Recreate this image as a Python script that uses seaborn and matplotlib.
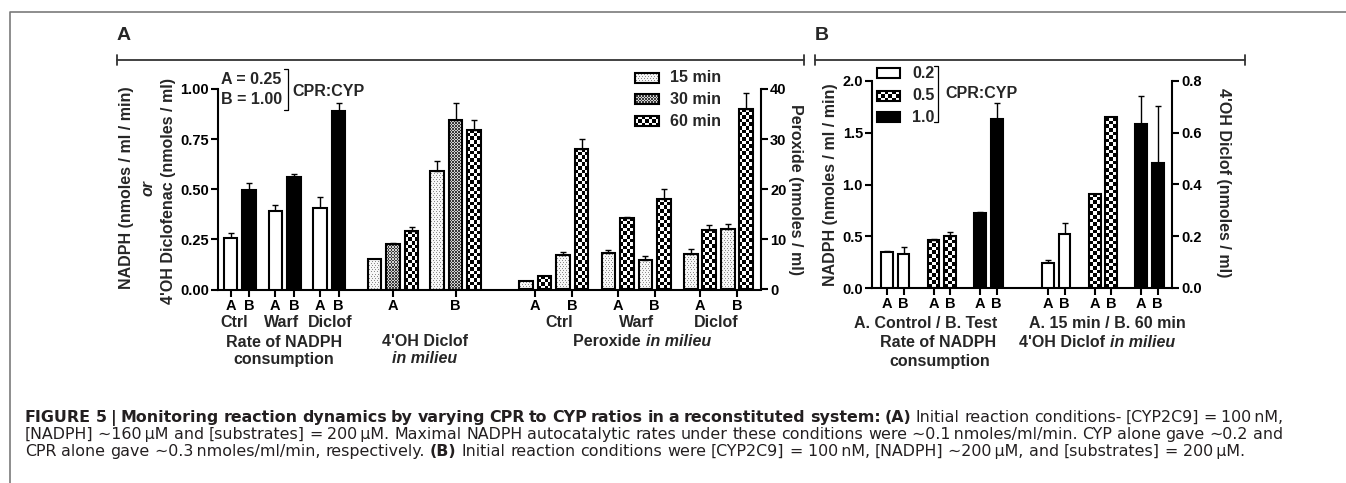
import matplotlib
matplotlib.use("Agg")
import numpy as np
import pandas as pd
import matplotlib.pyplot as plt
import seaborn as sns
from matplotlib.colors import ListedColormap

# ---------------- data ----------------
# Panel A - rate of NADPH consumption (A = 0.25, B = 1.00 CPR:CYP)
a_conditions = ["Ctrl", "Warf", "Diclof"]
a_groups = ["A", "B"]
a_nadph = [0.256, 0.497, 0.392, 0.561, 0.404, 0.889]      # Ctrl A, Ctrl B, Warf A, Warf B, Diclof A, Diclof B
a_nadph_err = [0.028, 0.033, 0.028, 0.017, 0.057, 0.040]
# Panel A - 4'OH diclofenac in milieu (15, 30, 60 min)
a_times = ["15 min", "30 min", "60 min"]
a_oh_A = [0.151, 0.226, 0.294]
a_oh_A_err = [0.0, 0.005, 0.020]
a_oh_B = [0.589, 0.843, 0.794]
a_oh_B_err = [0.050, 0.088, 0.050]
# Panel A - peroxide in milieu, order Ctrl A, Ctrl B, Warf A, Warf B, Diclof A, Diclof B
a_perox_15 = [1.7, 6.9, 7.3, 5.9, 7.0, 12.1]
a_perox_15_err = [0.0, 0.5, 0.5, 0.8, 1.0, 1.0]
a_perox_60 = [2.7, 28.1, 14.2, 18.1, 11.8, 36.1]
a_perox_60_err = [0.0, 2.0, 0.3, 2.0, 1.0, 3.1]
# Panel B - CPR:CYP 0.2 / 0.5 / 1.0
b_ratios = ["0.2", "0.5", "1.0"]
b_nadph_ctrl = [0.347, 0.466, 0.723]
b_nadph_ctrl_err = [0.010, 0.005, 0.010]
b_nadph_test = [0.328, 0.498, 1.633]
b_nadph_test_err = [0.064, 0.040, 0.150]
b_oh_15 = [0.097, 0.364, 0.633]
b_oh_15_err = [0.013, 0.0, 0.110]
b_oh_60 = [0.210, 0.660, 0.483]
b_oh_60_err = [0.041, 0.0, 0.219]

# ---------------- style ----------------
sns.set_style("ticks")
plt.rcParams["font.family"] = ["Liberation Sans", "DejaVu Sans"]
plt.rcParams["font.weight"] = "bold"
plt.rcParams["axes.edgecolor"] = "black"
plt.rcParams["axes.linewidth"] = 1.5
for a in ("xtick", "ytick"):
    plt.rcParams[a + ".color"] = "black"
    plt.rcParams[a + ".major.width"] = 1.5
    plt.rcParams[a + ".major.size"] = 5
    plt.rcParams[a + ".major.pad"] = 1.5

W, H = 1346, 483
fig = plt.figure(figsize=(W / 100, H / 100), dpi=100)
fig.patch.set_facecolor("white")
renderer = fig.canvas.get_renderer()


def frac(x0, y_top, x1, y_bot):
    return [x0 / W, 1 - y_bot / H, (x1 - x0) / W, (y_bot - y_top) / H]


axA = fig.add_axes(frac(218, 89, 761, 289.5))
axA2 = axA.twinx()
axB = fig.add_axes(frac(872, 81, 1172, 288))
axB2 = axB.twinx()
ov = fig.add_axes([0, 0, 1, 1], zorder=10)   # pixel overlay for annotations
ov.set_xlim(0, W)
ov.set_ylim(H, 0)
ov.axis("off")

A_SLOT, B_SLOT = 18.5, 16.5   # pixels per bar slot


def draw_bars(ax, pos, vals, kinds, width):
    n0 = len(ax.patches)
    df = pd.DataFrame({"pos": pos, "val": vals})
    sns.barplot(data=df, x="pos", y="val", orient="x", native_scale=True,
                width=width, color="white", saturation=1, errorbar=None,
                edgecolor="black", linewidth=1.5, ax=ax)
    new = sorted(ax.patches[n0:], key=lambda p: p.get_x())
    out = [None] * len(pos)
    for p, k in zip(new, np.argsort(pos)):
        out[k] = p
    for p, kind in zip(out, kinds):
        p.set_zorder(3)
        p.set_edgecolor("black")
        p.set_linewidth(1.5)
        p.set_facecolor({"white": "white", "black": "black"}.get(kind, "none"))
    ax.set_xlabel("")
    ax.set_ylabel("")
    return out


def pattern(ax, x0, x1, y0, y1, kind, zorder=2.2):
    (px0, py0), (px1, py1) = ax.transData.transform([(x0, y0), (x1, y1)])
    wpx, hpx = abs(px1 - px0), abs(py1 - py0)
    if kind == "check":
        nx, ny = max(1, round(wpx / 3.6)), max(1, round(hpx / 3.6))
        arr = np.add.outer(np.arange(ny), np.arange(nx)) % 2
        cmap = ListedColormap(["black", "white"])
    elif kind == "fine":
        nx, ny = max(1, round(wpx / 1.5)), max(1, round(hpx / 1.5))
        arr = np.add.outer(np.arange(ny), np.arange(nx)) % 2
        cmap = ListedColormap(["#3a3a3a", "#d4d4d4"])
    else:
        nx, ny = max(1, round(wpx)), max(1, round(hpx))
        arr = np.ones((ny, nx))
        arr[::4, ::3] = 0
        arr[2::4, 1::3] = 0
        cmap = ListedColormap(["#8c8c8c", "#f6f6f6"])
    ax.imshow(arr, cmap=cmap, vmin=0, vmax=1, extent=(x0, x1, y0, y1),
              origin="lower", aspect="auto", interpolation="nearest",
              zorder=zorder, clip_on=False)


def fill_bars(ax, patches, kinds):
    for p, kind in zip(patches, kinds):
        if kind in ("check", "fine", "dots"):
            x0 = p.get_x()
            pattern(ax, x0, x0 + p.get_width(), 0, p.get_height(), kind)


def draw_err(ax, pos, vals, errs):
    pos, vals, errs = map(np.asarray, (pos, vals, errs))
    m = errs > 0
    ax.errorbar(pos[m], vals[m], yerr=[np.zeros(m.sum()), errs[m]], fmt="none",
                ecolor="black", elinewidth=1.0, capsize=2.5, capthick=1.0, zorder=2.5)


# ---------------- panel A ----------------
pos_nadph = [0.68 + 2.42 * i + j for i in range(3) for j in range(2)]
kind_nadph = ["white", "black"] * 3
pos_oh = [8.46 + 3.38 * g + t for g in range(2) for t in range(3)]
val_oh = a_oh_A + a_oh_B
err_oh = a_oh_A_err + a_oh_B_err
kind_oh = ["dots", "fine", "check"] * 2
pos_per, val_per, err_per, kind_per = [], [], [], []
for i in range(3):
    for g in range(2):
        k = 2 * i + g
        for t in range(2):
            pos_per.append(16.65 + 4.45 * i + 2 * g + t)
            val_per.append(a_perox_15[k] if t == 0 else a_perox_60[k])
            err_per.append(a_perox_15_err[k] if t == 0 else a_perox_60_err[k])
            kind_per.append("dots" if t == 0 else "check")

barsA = draw_bars(axA, pos_nadph + pos_oh, a_nadph + val_oh, kind_nadph + kind_oh, 0.74)
barsA2 = draw_bars(axA2, pos_per, val_per, kind_per, 0.74)

# ---------------- panel B ----------------
pos_b1 = [0.91 + 2.82 * i + j for i in range(3) for j in range(2)]
pos_b2 = [10.67 + 2.82 * i + j for i in range(3) for j in range(2)]
val_b1, err_b1, val_b2, err_b2 = [], [], [], []
for i in range(3):
    val_b1 += [b_nadph_ctrl[i], b_nadph_test[i]]
    err_b1 += [b_nadph_ctrl_err[i], b_nadph_test_err[i]]
    val_b2 += [b_oh_15[i], b_oh_60[i]]
    err_b2 += [b_oh_15_err[i], b_oh_60_err[i]]
kind_b = ["white", "white", "check", "check", "black", "black"]
barsB = draw_bars(axB, pos_b1, val_b1, kind_b, 0.72)
barsB2 = draw_bars(axB2, pos_b2, val_b2, kind_b, 0.72)


def set_limits():
    axA.set_xlim(0, (761 - 218) / A_SLOT)
    axA.set_ylim(0, 1.0)
    axA2.set_ylim(0, 40)
    axB.set_xlim(0, (1172 - 872) / B_SLOT)
    axB.set_ylim(0, 2.0)
    axB2.set_ylim(0, 0.8)


set_limits()
fill_bars(axA, barsA, kind_nadph + kind_oh)
fill_bars(axA2, barsA2, kind_per)
fill_bars(axB, barsB, kind_b)
fill_bars(axB2, barsB2, kind_b)
draw_err(axA, pos_nadph + pos_oh, a_nadph + val_oh, a_nadph_err + err_oh)
draw_err(axA2, pos_per, val_per, err_per)
draw_err(axB, pos_b1, val_b1, err_b1)
draw_err(axB2, pos_b2, val_b2, err_b2)
set_limits()

# ticks
tick_a = pos_nadph + [pos_oh[1], pos_oh[4]] + [16.65 + 0.5 + 4.45 * i + 2 * g for i in range(3) for g in range(2)]
axA.set_xticks(tick_a, a_groups * 3 + a_groups + a_groups * 3)
axB.set_xticks(pos_b1 + pos_b2, a_groups * 6)
axA.set_yticks([0, 0.25, 0.5, 0.75, 1.0], ["0.00", "0.25", "0.50", "0.75", "1.00"])
axA2.set_yticks([0, 10, 20, 30, 40], ["0", "10", "20", "30", "40"])
axB.set_yticks([0, 0.5, 1.0, 1.5, 2.0], ["0.0", "0.5", "1.0", "1.5", "2.0"])
axB2.set_yticks([0, 0.2, 0.4, 0.6, 0.8], ["0.0", "0.2", "0.4", "0.6", "0.8"])
for ax in (axA, axA2, axB, axB2):
    ax.tick_params(labelsize=10.5, direction="out")
for ax in (axA, axB):
    ax.spines["top"].set_visible(False)
    ax.spines["right"].set_visible(False)
for ax in (axA2, axB2):
    for s in ("top", "left", "bottom"):
        ax.spines[s].set_visible(False)

# ---------------- text helpers ----------------
CHART_FONT = ["Liberation Sans", "DejaVu Sans"]
CAP_FONT = ["DejaVu Sans"]


def text_width(s, size, weight="bold", style="normal", family=CHART_FONT):
    t = ov.text(0, 0, "|" + s + "|", fontsize=size, fontweight=weight, fontstyle=style, family=family)
    w1 = t.get_window_extent(renderer).width
    t.set_text("||")
    w0 = t.get_window_extent(renderer).width
    t.remove()
    return w1 - w0


def run_text(x, y_base, pieces, align="center", family=CHART_FONT):
    # pieces: (text, size, weight, style)
    widths = [text_width(s, sz, w, st, family) for s, sz, w, st in pieces]
    x0 = x - sum(widths) / 2 if align == "center" else x
    for (s, sz, w, st), wd in zip(pieces, widths):
        ov.text(x0, y_base, s, fontsize=sz, fontweight=w, fontstyle=st,
                family=family, ha="left", va="baseline")
        x0 += wd


TS = 11.5
def label(x, y_center, pieces, size=TS):
    if isinstance(pieces, str):
        pieces = [(pieces, "bold", "normal")]
    run_text(x, y_center + 0.36 * size * 100 / 72, [(s, size, w, st) for s, w, st in pieces])


# x-axis group texts, panel A
for name, xc in zip(a_conditions, [234, 282, 330]):
    label(xc, 321, name)
label(284, 341, "Rate of NADPH")
label(284, 358, "consumption")
label(425, 340, "4'OH Diclof")
label(425, 357, [("in milieu", "bold", "italic")])
for name, xc in zip(a_conditions, [559, 637, 716]):
    label(xc, 321, name)
label(642, 340, [("Peroxide ", "bold", "normal"), ("in milieu", "bold", "italic")])
# panel B
label(926, 322, "A. Control / B. Test")
label(938, 341, "Rate of NADPH")
label(940, 360, "consumption")
label(1107, 322, "A. 15 min / B. 60 min")
label(1097, 341, [("4'OH Diclof ", "bold", "normal"), ("in milieu", "bold", "italic")])

# axis titles
ov.text(127, 188, "NADPH (nmoles / ml / min)", rotation=90, ha="center", va="center", fontsize=TS)
ov.text(148, 188, "or", rotation=90, ha="center", va="center", fontsize=TS, fontstyle="italic")
ov.text(169, 191, "4'OH Diclofenac (nmoles / ml)", rotation=90, ha="center", va="center", fontsize=TS)
ov.text(795, 189, "Peroxide (nmoles / ml)", rotation=270, ha="center", va="center", fontsize=TS)
ov.text(830, 185, "NADPH (nmoles / ml / min)", rotation=90, ha="center", va="center", fontsize=TS)
ov.text(1224, 183, "4'OH Diclof (nmoles / ml)", rotation=270, ha="center", va="center", fontsize=TS)

# legend, panel A
for (y0, y1), name, kind in zip([(73, 83), (94, 104), (116, 126)], a_times, ["dots", "fine", "check"]):
    pattern(ov, 635, 659, y1, y0, kind, zorder=1)
    ov.add_patch(plt.Rectangle((635, y0), 24, y1 - y0, fill=False, ec="black", lw=1.5, zorder=2))
    ov.text(670, (y0 + y1) / 2, name, ha="left", va="center", fontsize=TS)
# ratio note, panel A
ov.text(221, 79, "A = 0.25", ha="left", va="center", fontsize=TS)
ov.text(221, 100, "B = 1.00", ha="left", va="center", fontsize=TS)
ov.plot([284, 288, 288, 284], [69, 69, 110, 110], color="black", lw=0.9)
ov.text(292, 91, "CPR:CYP", ha="left", va="center", fontsize=TS)

# legend, panel B
for (y0, y1), name, kind in zip([(68, 78), (91, 101), (112, 122)], b_ratios, ["white", "check", "black"]):
    if kind == "check":
        pattern(ov, 877, 900, y1, y0, kind, zorder=1)
    ov.add_patch(plt.Rectangle((877, y0), 23, y1 - y0, fc="black" if kind == "black" else ("white" if kind == "white" else "none"),
                               ec="black", lw=1.5, zorder=2))
    ov.text(912, (y0 + y1) / 2, name, ha="left", va="center", fontsize=TS)
ov.plot([934, 938, 938, 934], [66, 66, 122, 122], color="black", lw=0.9)
ov.text(945, 93, "CPR:CYP", ha="left", va="center", fontsize=TS)

# panel letters and brackets
ov.text(117, 35, "A", ha="left", va="center", fontsize=14)
ov.text(815, 35, "B", ha="left", va="center", fontsize=14)
for x0, x1 in [(117, 804), (815, 1245)]:
    ov.plot([x0, x1], [60, 60], color="#333333", lw=1.3)
    ov.plot([x0, x0], [55, 65], color="#333333", lw=1.3)
    ov.plot([x1, x1], [55, 65], color="#333333", lw=1.3)

# figure frame
ov.plot([10, 10, W + 5], [H + 5, 12, 12], color="#7a7a7a", lw=1.2, clip_on=False)

# caption (first two lines justified to the measure, last line natural width)
THIN = "\u2009"
cap_lines = [
    [("FIGURE 5 | Monitoring reaction dynamics by varying CPR to CYP ratios in a reconstituted system: (A)", "bold"),
     ("Initial reaction conditions- [CYP2C9] = 100" + THIN + "nM,", "normal")],
    [("[NADPH] \u223c160" + THIN + "\u03bcM and [substrates] = 200" + THIN + "\u03bcM. Maximal NADPH autocatalytic rates under these "
      "conditions were \u223c0.1" + THIN + "nmoles/ml/min. CYP alone gave \u223c0.2 and", "normal")],
    [("CPR alone gave \u223c0.3" + THIN + "nmoles/ml/min, respectively.", "normal"),
     ("(B)", "bold"),
     ("Initial reaction conditions were [CYP2C9] = 100" + THIN + "nM, [NADPH] \u223c200" + THIN + "\u03bcM, and [substrates] = 200" + THIN + "\u03bcM.", "normal")],
]
CAP_X0, CAP_X1 = 25, 1283


def line_tokens(line):
    return [(w, wt) for s, wt in line for w in s.split(" ") if w]


def natural_width(tokens, size):
    space = text_width(" ", size, "normal", family=CAP_FONT)
    return sum(text_width(w, size, wt, family=CAP_FONT) for w, wt in tokens) + space * (len(tokens) - 1)


cap_size = 10 * (CAP_X1 - CAP_X0) / natural_width(line_tokens(cap_lines[1]), 10)
for i, (line, yb) in enumerate(zip(cap_lines, [422, 439, 456])):
    toks = line_tokens(line)
    widths = [text_width(w, cap_size, wt, family=CAP_FONT) for w, wt in toks]
    if i < 2:
        gap = (CAP_X1 - CAP_X0 - sum(widths)) / (len(toks) - 1)
    else:
        gap = text_width(" ", cap_size, "normal", family=CAP_FONT)
    x = CAP_X0
    for (w, wt), wd in zip(toks, widths):
        ov.text(x, yb, w, fontsize=cap_size, fontweight=wt, family=CAP_FONT,
                ha="left", va="baseline", color="#231f20")
        x += wd + gap

fig.savefig("out.png", dpi=100, facecolor="white")
